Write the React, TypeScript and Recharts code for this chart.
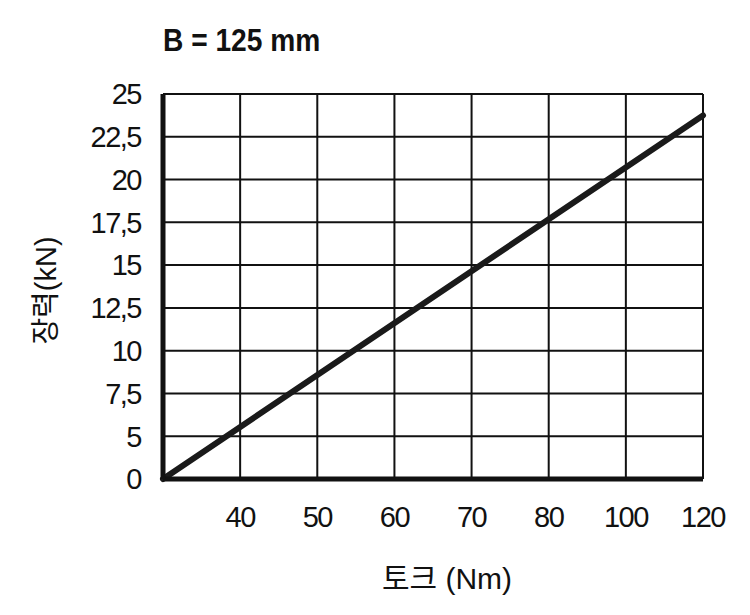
import { CartesianGrid, Line, LineChart, XAxis, YAxis } from 'recharts';

// tick values as printed; axes are evenly spaced per tick, not linear in value
const torqueTicks = [30, 40, 50, 60, 70, 80, 100, 120];
const torqueLabels = ['', '40', '50', '60', '70', '80', '100', '120'];
const tensionTicks = [0, 5, 7.5, 10, 12.5, 15, 17.5, 20, 22.5, 25];
const tensionLabels = ['0', '5', '7,5', '10', '12,5', '15', '17,5', '20', '22,5', '25'];

// measured line: torque (Nm) -> tension (kN)
const torque = [30, 120];
const tension = [0, 23.75];

// map a value onto the evenly spaced tick grid
function tickPos(v: number, ticks: number[]) {
  for (let i = 0; i < ticks.length - 1; i++) {
    if (v <= ticks[i + 1]) {
      return i + (v - ticks[i]) / (ticks[i + 1] - ticks[i]);
    }
  }
  return ticks.length - 1;
}

const data = torque.map((t, i) => ({
  x: tickPos(t, torqueTicks),
  y: tickPos(tension[i], tensionTicks),
}));

const font = "'Liberation Sans', 'Noto Sans CJK KR', sans-serif";
const tickStyle = { fill: '#111', fontSize: 29, fontFamily: font, letterSpacing: -1.5 };

export default function App() {
  return (
    <div style={{ position: 'relative', width: 742, height: 600, background: '#fff' }}>
      <div
        style={{
          position: 'absolute',
          left: 155,
          top: 16,
          fontFamily: font,
          fontWeight: 'bold',
          fontSize: 32,
          lineHeight: '32px',
          color: '#111',
          whiteSpace: 'nowrap',
          transform: 'scaleX(0.88)',
          transformOrigin: 'left top',
        }}
      >
        B = 125 mm
      </div>
      <LineChart
        width={742}
        height={600}
        data={data}
        margin={{ top: 86, right: 47, left: 0, bottom: 0 }}
      >
        <CartesianGrid stroke="#111" strokeWidth={2} />
        <XAxis
          type="number"
          dataKey="x"
          domain={[0, torqueTicks.length - 1]}
          ticks={torqueTicks.map((_, i) => i)}
          tickFormatter={(i: number) => torqueLabels[i]}
          interval={0}
          height={129}
          axisLine={{ stroke: '#111', strokeWidth: 5 }}
          tickLine={false}
          tickMargin={21}
          tick={tickStyle}
          label={{
            value: '토크 (Nm)',
            position: 'insideBottom',
            offset: 19,
            dx: 14,
            fill: '#111',
            fontSize: 30,
            fontFamily: font,
          }}
        />
        <YAxis
          type="number"
          dataKey="y"
          domain={[0, tensionTicks.length - 1]}
          ticks={tensionTicks.map((_, i) => i)}
          tickFormatter={(i: number) => tensionLabels[i]}
          interval={0}
          width={155}
          axisLine={{ stroke: '#111', strokeWidth: 5 }}
          tickLine={false}
          tickMargin={16}
          tick={tickStyle}
          label={{
            value: '장력(kN)',
            angle: -90,
            position: 'insideLeft',
            offset: 38,
            dy: 4,
            fill: '#111',
            fontSize: 29,
            fontFamily: font,
            style: { textAnchor: 'middle' },
          }}
        />
        <Line
          type="linear"
          dataKey="y"
          stroke="#1a1a1a"
          strokeWidth={6}
          strokeLinecap="round"
          dot={false}
          activeDot={false}
          isAnimationActive={false}
        />
      </LineChart>
    </div>
  );
}
